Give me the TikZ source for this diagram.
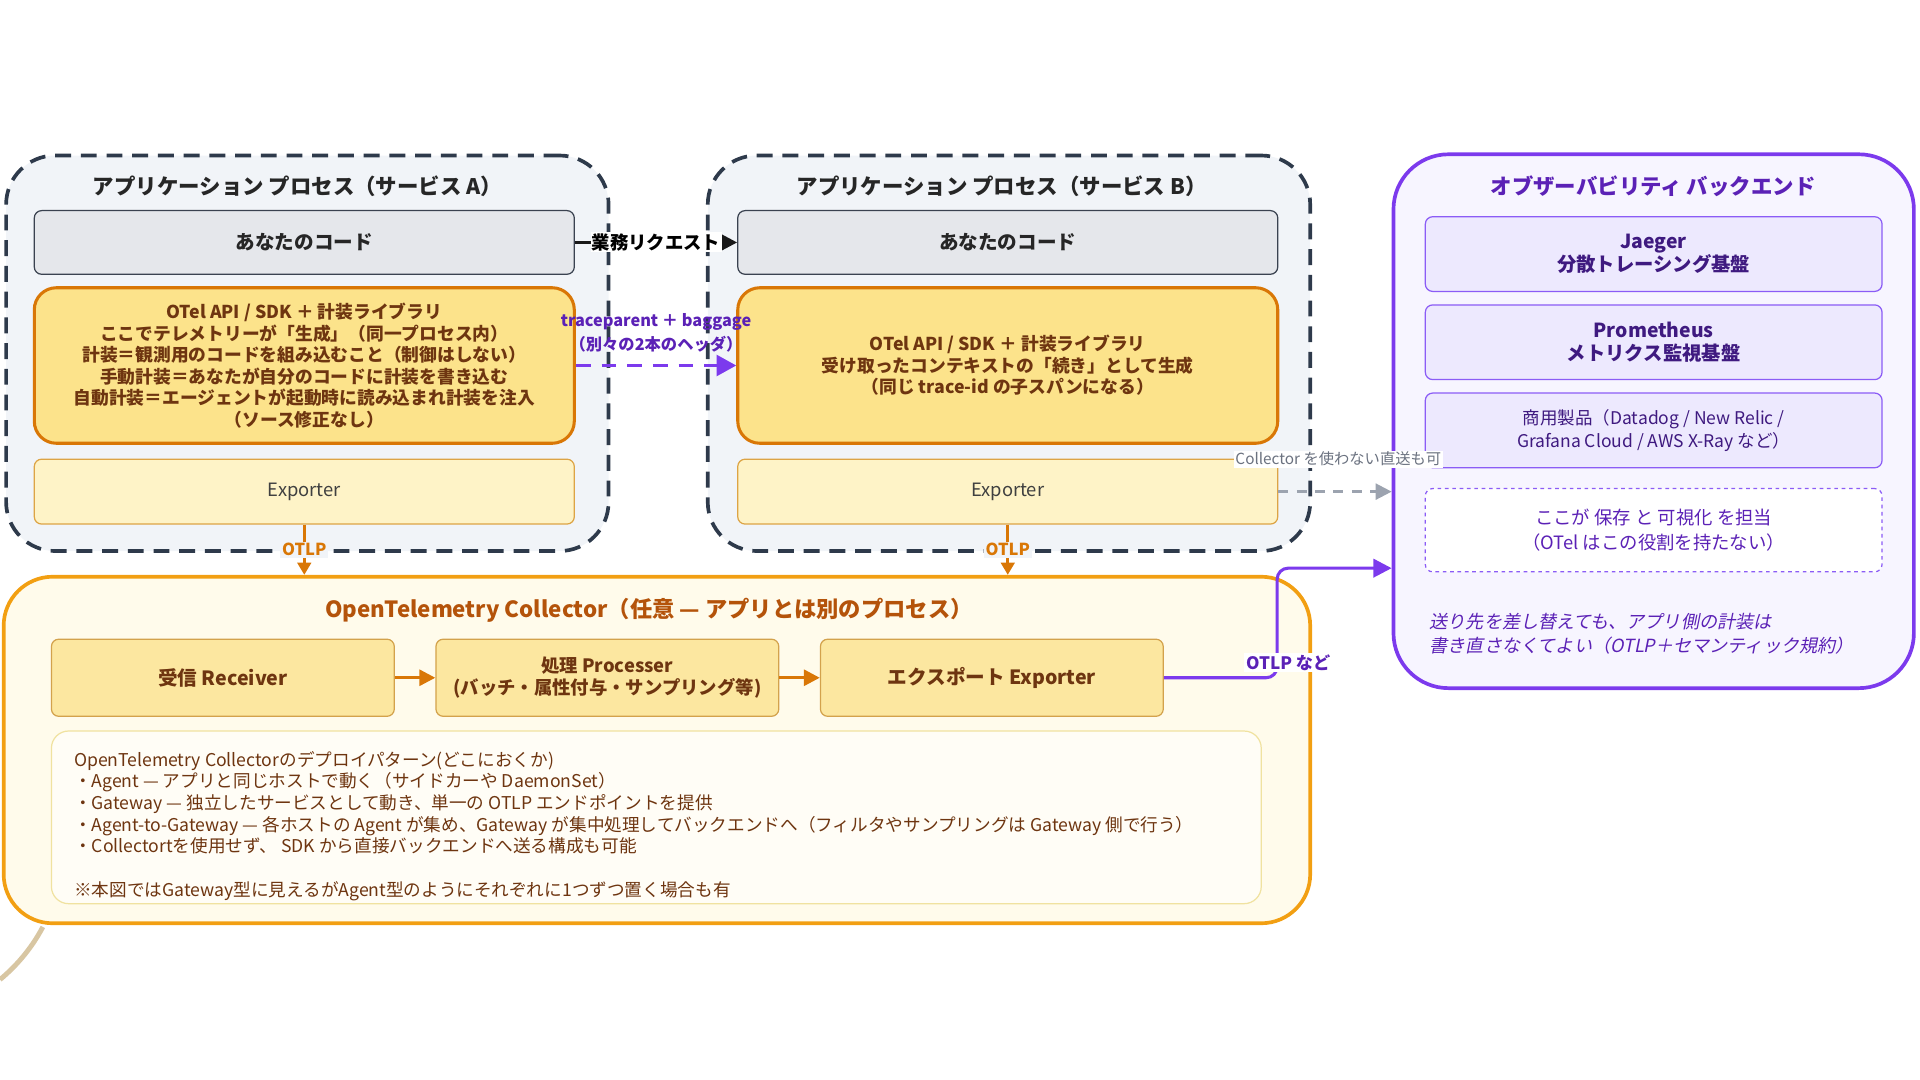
\documentclass[tikz,border=0pt]{standalone}
\usepackage{fontspec}
\setmainfont{Noto Sans CJK JP}
\newfontfamily\jpslant{Noto Sans CJK JP}[FakeSlant=0.2]
\usepackage{tikz}
\usetikzlibrary{arrows.meta,calc,positioning}
\usepackage{xcolor}

\definecolor{slate}{HTML}{2E3A4B}
\definecolor{procbg}{HTML}{F1F4F8}
\definecolor{codebg}{HTML}{E5E7EB}
\definecolor{codeline}{HTML}{3A4250}
\definecolor{otelbg}{HTML}{FCE38B}
\definecolor{otelline}{HTML}{D97706}
\definecolor{brown}{HTML}{6E3510}
\definecolor{expbg}{HTML}{FEF3C7}
\definecolor{expline}{HTML}{DDA445}
\definecolor{colbg}{HTML}{FFFBEB}
\definecolor{colline}{HTML}{F29F12}
\definecolor{coltitle}{HTML}{B4530A}
\definecolor{stagebg}{HTML}{FCE7A0}
\definecolor{stageline}{HTML}{D3A24C}
\definecolor{notebg}{HTML}{FFFDF6}
\definecolor{noteline}{HTML}{F0E2A0}
\definecolor{violet}{HTML}{7C3AED}
\definecolor{backbg}{HTML}{F7F5FF}
\definecolor{vtitle}{HTML}{5B21B6}
\definecolor{toolbg}{HTML}{EDE9FE}
\definecolor{toolline}{HTML}{8B5CF6}
\definecolor{tooltext}{HTML}{3F1A80}
\definecolor{greyline}{HTML}{9CA3AF}
\definecolor{greytext}{HTML}{6B7280}
\definecolor{tan}{HTML}{D8C6A2}

\tikzset{
  procbox/.style={draw=slate, line width=3pt, dash pattern=on 13pt off 8pt,
    fill=procbg, rounded corners=40pt, minimum width=492pt, minimum height=323pt},
  proctitle/.style={font=\fontsize{17.5}{20}\selectfont\bfseries, text=black!85},
  codebox/.style={draw=codeline, line width=1pt, fill=codebg, rounded corners=6pt,
    minimum width=441pt, minimum height=52pt, font=\fontsize{16}{18}\selectfont\bfseries, text=black!85},
  otelbox/.style={draw=otelline, line width=2.5pt, fill=otelbg, rounded corners=18pt,
    minimum width=441pt, minimum height=127pt, align=center,
    font=\fontsize{14.5}{17.6}\selectfont\bfseries, text=brown},
  expbox/.style={draw=expline, line width=1pt, fill=expbg, rounded corners=6pt,
    minimum width=441pt, minimum height=53pt, font=\fontsize{15}{18}\selectfont, text=black!75},
  colbox/.style={draw=colline, line width=3pt, fill=colbg, rounded corners=40pt,
    minimum width=1067pt, minimum height=283pt},
  stagebox/.style={draw=stageline, line width=1pt, fill=stagebg, rounded corners=6pt,
    minimum width=280pt, minimum height=63pt, align=center,
    font=\fontsize{15}{18}\selectfont\bfseries, text=brown},
  notebox/.style={draw=noteline, line width=1pt, fill=notebg, rounded corners=14pt,
    minimum width=988pt, minimum height=141pt},
  backbox/.style={draw=violet, line width=3pt, fill=backbg, rounded corners=45pt,
    minimum width=425pt, minimum height=436pt},
  toolbox/.style={draw=toolline, line width=1pt, fill=toolbg, rounded corners=6pt,
    minimum width=373pt, minimum height=61pt, align=center, text=tooltext},
  flow/.style={-{Triangle[length=13pt,width=13pt]}, line width=2.5pt},
  otlp/.style={flow, draw=otelline, -{Triangle[length=10pt,width=11pt]}},
  otlplabel/.style={fill=procbg, inner sep=1.5pt, text=otelline,
    font=\fontsize{13.5}{15}\selectfont\bfseries}
}

\begin{document}
\begin{tikzpicture}[x=1pt,y=-1pt]
\useasboundingbox (0,0) rectangle (1568,882);

% application processes
\node[procbox] (procA) at (251,288.5) {};
\node[proctitle] (titleA) at (243,152) {アプリケーション プロセス（サービス A）};
\node[codebox] (codeA) at (248.5,198) {あなたのコード};
\node[otelbox] (otelA) at (248.5,298.5) {OTel API / SDK ＋ 計装ライブラリ\\
  ここでテレメトリーが「生成」（同一プロセス内）\\
  計装＝観測用のコードを組み込むこと（制御はしない）\\
  手動計装＝あなたが自分のコードに計装を書き込む\\
  自動計装＝エージェントが起動時に読み込まれ計装を注入\\
  （ソース修正なし）};
\node[expbox] (expA) at (248.5,401.5) {Exporter};

\node[procbox] (procB) at (824,288.5) {};
\node[proctitle] (titleB) at (818,152) {アプリケーション プロセス（サービス B）};
\node[codebox] (codeB) at (823,198) {あなたのコード};
\node[otelbox] (otelB) at (823,298.5) {OTel API / SDK ＋ 計装ライブラリ\\
  受け取ったコンテキストの「続き」として生成\\
  （同じ trace-id の子スパンになる）};
\node[expbox] (expB) at (823,401.5) {Exporter};

% backend
\node[backbox] (backend) at (1350.5,344) {};
\node[font=\fontsize{17.5}{20}\selectfont\bfseries, text=vtitle] (backtitle) at (1350,152) {オブザーバビリティ バックエンド};
\node[toolbox, font=\fontsize{15.8}{19}\selectfont\bfseries] (jaeger) at (1350.5,207.5) {Jaeger\\分散トレーシング基盤};
\node[toolbox, font=\fontsize{15.8}{19}\selectfont\bfseries] (prom) at (1350.5,279.5) {Prometheus\\メトリクス監視基盤};
\node[toolbox, font=\fontsize{14.3}{19}\selectfont] (vendor) at (1350.5,351.5) {商用製品（Datadog / New Relic /\\Grafana Cloud / AWS X-Ray など）};
\node[toolbox, draw=toolline, dashed, fill=white, minimum height=68pt, text=vtitle,
  font=\fontsize{15}{20}\selectfont] (store) at (1350.5,433) {ここが 保存 と 可視化 を担当\\（OTel はこの役割を持たない）};
\node[anchor=west, align=left, text=vtitle, font=\fontsize{14.8}{19}\selectfont\jpslant] (swap) at (1164,517.5)
  {送り先を差し替えても、アプリ側の計装は\\書き直さなくてよい（OTLP＋セマンティック規約）};

% collector
\node[colbox] (collector) at (536.5,612.5) {};
\node[font=\fontsize{18.2}{21}\selectfont\bfseries, text=coltitle] (coltitle) at (530,498)
  {OpenTelemetry Collector（任意 — アプリとは別のプロセス）};
\node[stagebox, font=\fontsize{16}{18}\selectfont\bfseries] (recv) at (182,553.5) {受信 Receiver};
\node[stagebox] (proc) at (496,553.5) {処理 Processer\\(バッチ・属性付与・サンプリング等)};
\node[stagebox, font=\fontsize{16}{18}\selectfont\bfseries] (expC) at (810,553.5) {エクスポート Exporter};
\node[notebox] (deploy) at (536,667.5) {};
\node[anchor=north west, align=left, text=brown, font=\fontsize{14.4}{17.7}\selectfont] (deploytext) at (57,610)
  {OpenTelemetry Collectorのデプロイパターン(どこにおくか)\\
  ・Agent — アプリと同じホストで動く（サイドカーや DaemonSet）\\
  ・Gateway — 独立したサービスとして動き、単一の OTLP エンドポイントを提供\\
  ・Agent-to-Gateway — 各ホストの Agent が集め、Gateway が集中処理してバックエンドへ（フィルタやサンプリングは Gateway 側で行う）\\
  ・Collectortを使用せず、 SDK から直接バックエンドへ送る構成も可能\\[17.7pt]
  ※本図ではGateway型に見えるがAgent型のようにそれぞれに1つずつ置く場合も有};

% connectors
\draw[flow, draw=black!90] (codeA) -- (codeB)
  node[midway, fill=white, inner sep=1pt, font=\fontsize{15}{18}\selectfont\bfseries] (bizreq) {業務リクエスト};
\draw[flow, draw=violet, dash pattern=on 12pt off 9pt, -{Triangle[length=16pt,width=17pt]}] (otelA) -- (otelB)
  node[midway, above=6pt, align=center, text=vtitle, font=\fontsize{13.3}{20}\selectfont\bfseries] (ctx)
  {traceparent ＋ baggage\\（別々の2本のヘッダ）};
\draw[otlp] (expA) -- (expA |- collector.north) node[midway, otlplabel] (otlpA) {OTLP};
\draw[otlp] (expB) -- (expB |- collector.north) node[midway, otlplabel] (otlpB) {OTLP};
\draw[flow, draw=otelline] (recv) -- (proc);
\draw[flow, draw=otelline] (proc) -- (expC);
\draw[-{Triangle[length=13pt,width=13pt]}, draw=greyline, line width=2pt, dash pattern=on 8pt off 7pt]
  (expB.east) -- (expB.east -| backend.west);
\node[fill=white, inner sep=1pt, text=greytext, font=\fontsize{12.5}{14}\selectfont] (direct) at (1093,375) {Collector を使わない直送も可};
\coordinate (bend) at (1043,464);
\draw[flow, draw=violet, rounded corners=9pt, -{Triangle[length=15pt,width=15pt]}] (expC.east) -| (bend) -- (bend -| backend.west);
\node[fill=white, inner sep=1.5pt, text=vtitle, font=\fontsize{14}{16}\selectfont\bfseries] (otlpetc) at (1052,541) {OTLP など};

% stray stroke at the lower left
\draw[draw=tan, line width=4pt] (35,757) .. controls (25,776) and (12,790) .. (0,800);
\end{tikzpicture}
\end{document}
